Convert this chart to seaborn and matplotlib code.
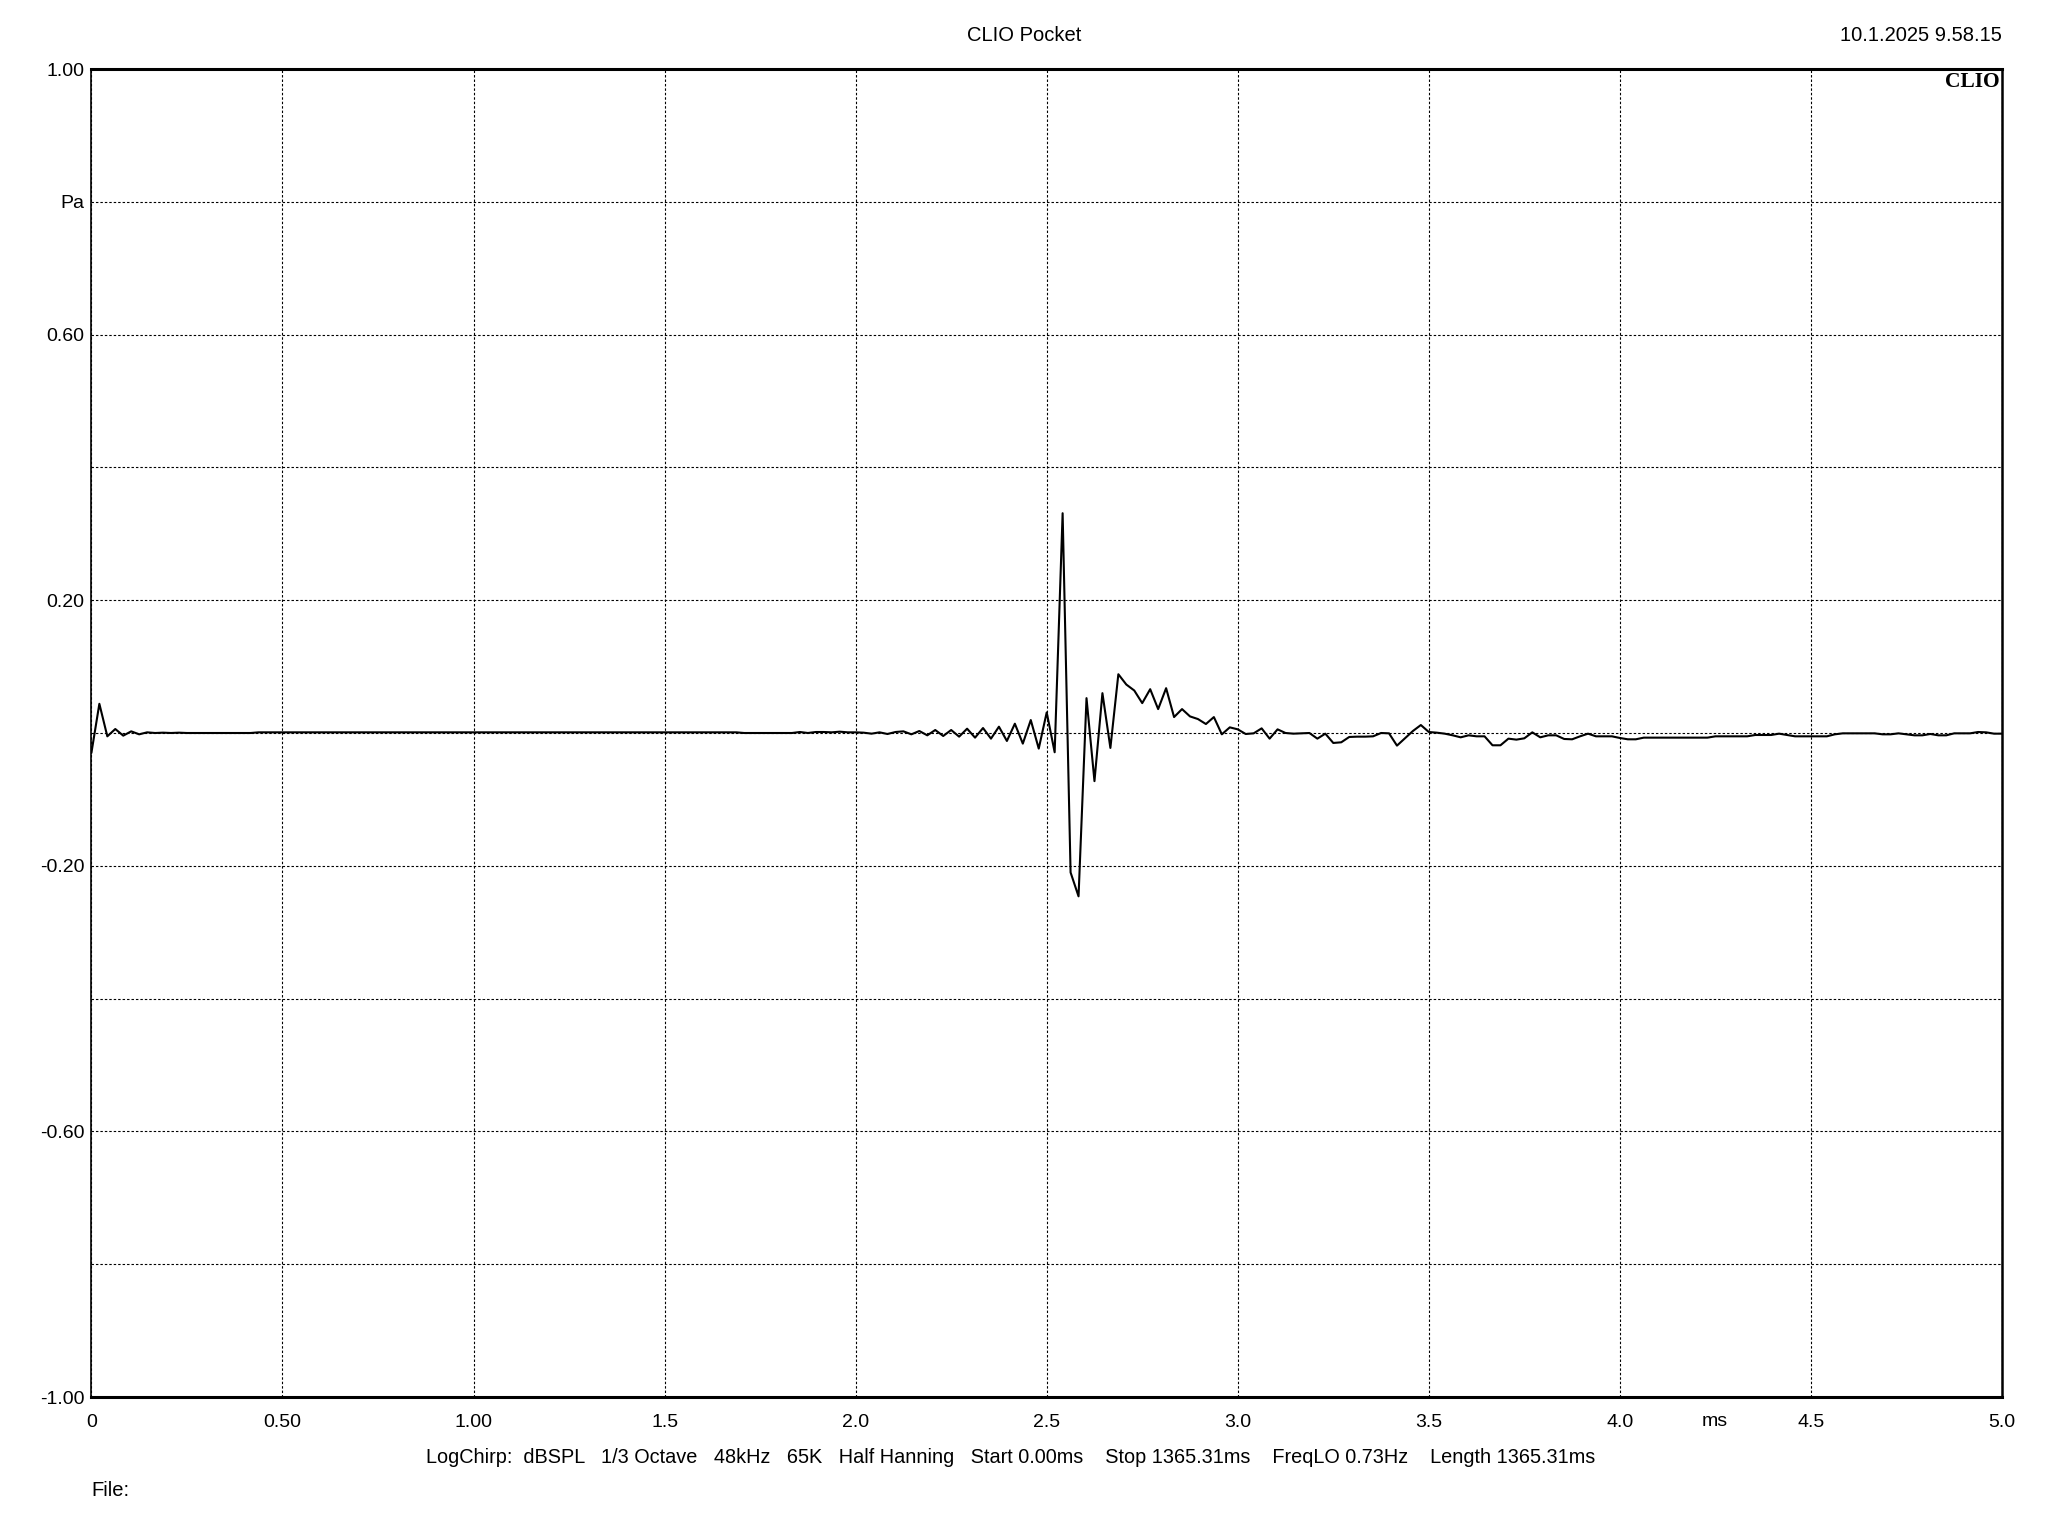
import numpy as np
import pandas as pd
import matplotlib
matplotlib.use("Agg")
import matplotlib.pyplot as plt
import seaborn as sns

# ---------------- data ----------------
SAMPLE_RATE_KHZ = 48  # samples per ms
pressure_pa = [
    -0.030, 0.044, -0.005, 0.006, -0.004, 0.0025, -0.002, 0.001, 0.0, 0.0005, 0.0, 0.0005,
    0.0, 0.0, 0.0, 0.0, 0.0, 0.0, 0.0, 0.0, 0.0, 0.001, 0.001, 0.001,
    0.001, 0.001, 0.001, 0.001, 0.001, 0.001, 0.001, 0.001, 0.001, 0.001, 0.001, 0.001,
    0.001, 0.001, 0.001, 0.001, 0.001, 0.001, 0.001, 0.001, 0.001, 0.001, 0.001, 0.001,
    0.001, 0.001, 0.001, 0.001, 0.001, 0.001, 0.001, 0.001, 0.001, 0.001, 0.001, 0.001,
    0.001, 0.001, 0.001, 0.001, 0.001, 0.001, 0.001, 0.001, 0.001, 0.001, 0.001, 0.001,
    0.001, 0.001, 0.001, 0.001, 0.001, 0.001, 0.001, 0.001, 0.001, 0.001, 0.0, 0.0,
    0.0, 0.0, 0.0, 0.0, 0.0, 0.0015, 0.0, 0.0015, 0.0015, 0.001, 0.002, 0.001,
    0.001, 0.0005, -0.001, 0.001, -0.0015, 0.0015, 0.0025, -0.002, 0.003, -0.0035, 0.0045, -0.0045,
    0.0045, -0.0055, 0.0065, -0.007, 0.0075, -0.0085, 0.0095, -0.012, 0.014, -0.016, 0.0195, -0.0235,
    0.031, -0.029, 0.331, -0.210, -0.246, 0.0525, -0.0725, 0.060, -0.0225, 0.0885, 0.073, 0.064,
    0.045, 0.066, 0.036, 0.0675, 0.024, 0.036, 0.025, 0.021, 0.0135, 0.024, -0.002, 0.0085,
    0.0055, -0.0015, -0.0005, 0.007, -0.0085, 0.0055, 0.0, -0.001, -0.0005, 0.0, -0.0085, -0.001,
    -0.015, -0.014, -0.006, -0.0055, -0.0055, -0.005, 0.0, -0.0005, -0.019, -0.008, 0.003, 0.012,
    0.0015, 0.0005, -0.001, -0.0035, -0.0065, -0.0035, -0.005, -0.005, -0.0185, -0.0185, -0.0085, -0.010,
    -0.008, 0.001, -0.0065, -0.0035, -0.0035, -0.009, -0.0095, -0.005, -0.001, -0.005, -0.005, -0.005,
    -0.0075, -0.0095, -0.0095, -0.007, -0.007, -0.007, -0.007, -0.007, -0.007, -0.007, -0.007, -0.007,
    -0.005, -0.005, -0.005, -0.005, -0.005, -0.003, -0.003, -0.003, -0.001, -0.003, -0.005, -0.005,
    -0.005, -0.005, -0.005, -0.002, -0.0005, -0.0005, -0.0005, -0.0005, -0.0005, -0.002, -0.002, -0.0005,
    -0.002, -0.0035, -0.0035, -0.0015, -0.0035, -0.0035, -0.0005, -0.0005, -0.0005, 0.0015, 0.001, -0.001,
    -0.001,
]
time_ms = np.arange(len(pressure_pa)) / SAMPLE_RATE_KHZ

x_ticks = [0, 0.5, 1.0, 1.5, 2.0, 2.5, 3.0, 3.5, 4.0, 4.5, 5.0]
x_tick_labels = ["0", "0.50", "1.00", "1.5", "2.0", "2.5", "3.0", "3.5", "4.0", "4.5", "5.0"]
y_ticks = [-1.0, -0.8, -0.6, -0.4, -0.2, 0.0, 0.2, 0.4, 0.6, 0.8, 1.0]
y_tick_labels = ["-1.00", "", "-0.60", "", "-0.20", "", "0.20", "", "0.60", "Pa", "1.00"]

title_text = "CLIO Pocket"
date_text = "10.1.2025 9.58.15"
x_unit = "ms"
footer_text = ("LogChirp:  dBSPL   1/3 Octave   48kHz   65K   Half Hanning   Start 0.00ms    "
               "Stop 1365.31ms    FreqLO 0.73Hz    Length 1365.31ms")
file_text = "File:"
logo_text = "CLIO"

df = pd.DataFrame({"time": time_ms, "pressure": pressure_pa})

# ---------------- style ----------------
sns.set_theme(style="white")
plt.rcParams["font.family"] = ["Liberation Sans", "DejaVu Sans"]

W, H = 2048, 1536
fig = plt.figure(figsize=(W / 100, H / 100), dpi=100)
left, right, top, bottom = 91.4, 2002, 69, 1397
ax = fig.add_axes([left / W, 1 - bottom / H, (right - left) / W, (bottom - top) / H])

sns.lineplot(data=df, x="time", y="pressure", ax=ax, color="black", linewidth=1.5,
             estimator=None, sort=False, zorder=3)

ax.set_xlim(0, 5.0)
ax.set_ylim(-1.0, 1.0)
ax.set_xticks(x_ticks)
ax.set_xticklabels(x_tick_labels)
ax.set_yticks(y_ticks)
ax.set_yticklabels(y_tick_labels)
ax.set_xlabel("")
ax.set_ylabel("")

ax.grid(True, color="black", linestyle=(0, (2.2, 1.8)), linewidth=0.8, zorder=1)
ax.tick_params(axis="both", length=0, labelsize=14, colors="black")
ax.tick_params(axis="x", pad=12.5)
ax.tick_params(axis="y", pad=5)

for side in ["left", "right"]:
    ax.spines[side].set_color("black")
    ax.spines[side].set_linewidth(1.2)
ax.spines["right"].set_linewidth(1.8)
for side in ["top", "bottom"]:
    ax.spines[side].set_color("black")
    ax.spines[side].set_linewidth(2.2)

# logo
ax.text(0.9987, 0.9905, logo_text, transform=ax.transAxes, ha="right", va="center",
        fontsize=15.5, fontweight="bold", family=["Liberation Serif", "DejaVu Serif"], color="black")

# unit label on x axis, same row as tick labels
fig.text(1714.6 / W, 1 - 1421 / H, x_unit, ha="center", va="center", fontsize=14, color="black")

# header
fig.text(1024 / W, 1 - 35.5 / H, title_text, ha="center", va="center", fontsize=14.5, color="black")
fig.text(right / W, 1 - 35.5 / H, date_text, ha="right", va="center", fontsize=14.5, color="black")

# footer
fig.text(1011 / W, 1 - 1457.5 / H, footer_text, ha="center", va="center", fontsize=14.3, color="black")
fig.text(91 / W, 1 - 1490 / H, file_text, ha="left", va="center", fontsize=14.5, color="black")

fig.savefig("out.png", dpi=100, facecolor="white")
